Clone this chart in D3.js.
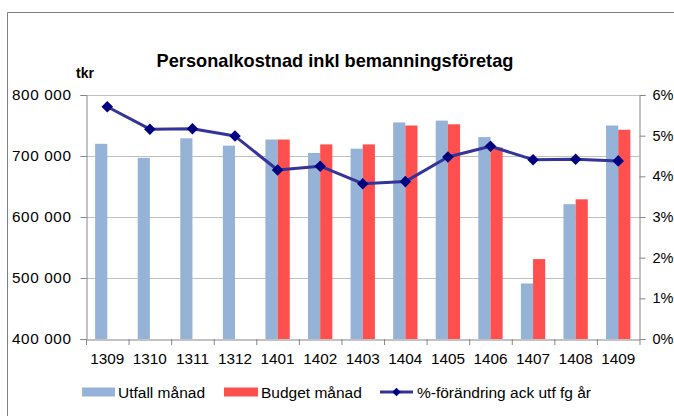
<!DOCTYPE html>
<html><head><meta charset="utf-8">
<script src="https://cdn.jsdelivr.net/npm/d3@7"></script>
<style>body{margin:0;background:#fff}svg{display:block;font-family:"Liberation Sans",Arial,sans-serif}</style>
</head><body><svg id="c" width="674" height="416"></svg>
<script>
const categories = ["1309","1310","1311","1312","1401","1402","1403","1404","1405","1406","1407","1408","1409"];
const utfall = [720000,697000,729000,717000,727000,705000,712000,755000,758000,731000,491000,621000,750000];
const budget = [null,null,null,null,727000,719000,719000,750000,752000,714000,531000,629000,743000];
const pctChange = [5.71,5.16,5.17,4.99,4.155,4.25,3.82,3.87,4.475,4.74,4.41,4.42,4.38];
const leftTicks = [400000,500000,600000,700000,800000];
const rightTicks = [0,1,2,3,4,5,6];
const title = "Personalkostnad inkl bemanningsföretag";
const unitLabel = "tkr";
const seriesNames = ["Utfall månad","Budget månad","%-förändring ack utf fg år"];

const svg = d3.select("#c");
const L = 86, R = 639.5, T = 95, B = 339;
const fmt = v => d3.format(",")(v).replace(/,/g," ");

// frame
svg.append("path").attr("d","M7.5,416 V12.5 H674").attr("fill","none").attr("stroke","#808080").attr("stroke-width",1);

const x = d3.scaleBand().domain(categories).range([L,R]);
const y = d3.scaleLinear().domain([400000,800000]).range([B,T]);
const y2 = d3.scaleLinear().domain([0,6]).range([B,T]);

// grid
svg.append("g").selectAll("line").data(leftTicks.slice(1)).join("line")
  .attr("x1",L).attr("x2",R).attr("y1",d=>Math.round(y(d))+0.5).attr("y2",d=>Math.round(y(d))+0.5)
  .attr("stroke","#c0c0c0").attr("stroke-width",1);

const bw = x.bandwidth()/(2+1.5);
const bars = svg.append("g");
bars.selectAll(".u").data(categories).join("rect")
  .attr("x",(d,i)=>x(d)+x.bandwidth()/2-bw).attr("width",bw)
  .attr("y",(d,i)=>y(utfall[i])).attr("height",(d,i)=>B-y(utfall[i]))
  .attr("fill","#95b3d7");
bars.selectAll(".b").data(categories.filter((d,i)=>budget[i]!=null)).join("rect")
  .attr("x",d=>x(d)+x.bandwidth()/2).attr("width",bw)
  .attr("y",d=>y(budget[categories.indexOf(d)])).attr("height",d=>B-y(budget[categories.indexOf(d)]))
  .attr("fill","#ff5050");

// axes
const axL = svg.append("g").attr("transform",`translate(${L+0.5},0)`)
  .call(d3.axisLeft(y).tickValues(leftTicks).tickFormat(fmt).tickSize(6).tickPadding(9));
const axR = svg.append("g").attr("transform",`translate(${R},0)`)
  .call(d3.axisRight(y2).tickValues(rightTicks).tickFormat(d=>d+"%").tickSize(6).tickPadding(7));
const axB = svg.append("g").attr("transform",`translate(0,${B+0.5})`)
  .call(d3.axisBottom(x).tickSize(0).tickPadding(14));
axL.selectAll("path,line").attr("stroke","#868686");
axL.selectAll("text").attr("font-size",15.3).attr("letter-spacing","0.6px").attr("fill","#000").attr("font-family","Liberation Sans, Arial, sans-serif");
axR.selectAll("path,line").attr("stroke","#868686");
axR.selectAll("text").attr("font-size",14.5).attr("fill","#000").attr("font-family","Liberation Sans, Arial, sans-serif");
axB.selectAll("path,line").attr("stroke","#868686");
axB.selectAll("text").attr("font-size",15.3).attr("fill","#000").attr("font-family","Liberation Sans, Arial, sans-serif");
// bottom category ticks (between categories)
svg.append("g").selectAll("line").data(categories.concat(["end"])).join("line")
  .attr("x1",(d,i)=>L+i*x.step()+0.5).attr("x2",(d,i)=>L+i*x.step()+0.5)
  .attr("y1",B).attr("y2",B+6).attr("stroke","#868686");

// line
const line = d3.line().x((d,i)=>x(categories[i])+x.bandwidth()/2).y(d=>y2(d));
svg.append("path").datum(pctChange).attr("d",line).attr("fill","none")
  .attr("stroke","#333399").attr("stroke-width",3).attr("stroke-linejoin","round");
svg.append("g").selectAll("path").data(pctChange).join("path")
  .attr("d",d3.symbol(d3.symbolDiamond2,85))
  .attr("transform",(d,i)=>`translate(${x(categories[i])+x.bandwidth()/2},${y2(d)})`)
  .attr("fill","#000080");

// title
svg.append("text").attr("x",335).attr("y",67).attr("text-anchor","middle")
  .attr("font-size",18.2).attr("font-weight","bold").text(title);
svg.append("text").attr("x",76).attr("y",78).attr("font-size",14).attr("font-weight","bold").text(unitLabel);

// legend
const lg = svg.append("g").attr("font-size",15.5);
const ly = 392;
lg.append("rect").attr("x",82).attr("y",ly-4.5).attr("width",33).attr("height",9).attr("fill","#95b3d7");
lg.append("text").attr("x",118).attr("y",ly+6).text(seriesNames[0]);
lg.append("rect").attr("x",224).attr("y",ly-4.5).attr("width",34).attr("height",9).attr("fill","#ff5050");
lg.append("text").attr("x",261).attr("y",ly+6).text(seriesNames[1]);
lg.append("line").attr("x1",380).attr("x2",413).attr("y1",ly).attr("y2",ly).attr("stroke","#333399").attr("stroke-width",3);
lg.append("path").attr("d",d3.symbol(d3.symbolDiamond2,45)).attr("transform",`translate(396.5,${ly})`).attr("fill","#000080");
lg.append("text").attr("x",417).attr("y",ly+6).text(seriesNames[2]);
</script></body></html>
